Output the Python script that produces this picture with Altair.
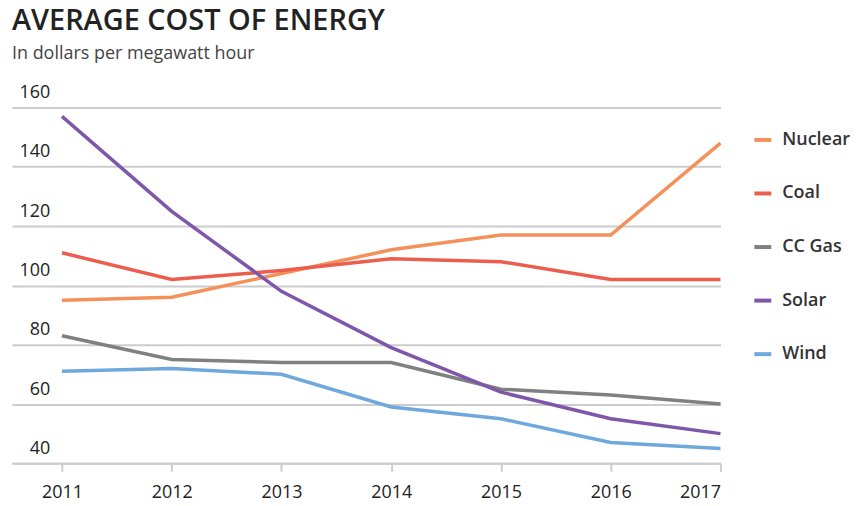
import altair as alt
import pandas as pd

years = [2011, 2012, 2013, 2014, 2015, 2016, 2017]
nuclear = [95, 96, 104, 112, 117, 117, 148]
coal = [111, 102, 105, 109, 108, 102, 102]
cc_gas = [83, 75, 74, 74, 65, 63, 60]
solar = [157, 125, 98, 79, 64, 55, 50]
wind = [71, 72, 70, 59, 55, 47, 45]
series_names = ["Nuclear", "Coal", "CC Gas", "Solar", "Wind"]
series_colors = ["#F4915A", "#EB5E4E", "#808080", "#7E57A8", "#6FA8DC"]
y_ticks = [40, 60, 80, 100, 120, 140, 160]

rows = []
for name, vals in zip(series_names, [nuclear, coal, cc_gas, solar, wind]):
    for yr, v in zip(years, vals):
        rows.append({"year": yr, "cost": v, "source": name})
df = pd.DataFrame(rows)

FONT = "Open Sans"

chart = alt.Chart(df).mark_line(strokeWidth=3.5).encode(
    x=alt.X("year:Q",
            scale=alt.Scale(domain=[2010.545, 2017], nice=False, zero=False),
            axis=alt.Axis(values=years, format="d", title=None, grid=False,
                          domain=True, domainColor="#cccccc", domainWidth=2,
                          ticks=True, tickSize=8, tickColor="#cccccc", tickWidth=2,
                          labelFontSize=18, labelColor="#222222", labelPadding=12,
                          labelFont=FONT)),
    y=alt.Y("cost:Q",
            scale=alt.Scale(domain=[40, 160], nice=False, zero=False),
            axis=alt.Axis(values=y_ticks, title=None, grid=True,
                          gridColor="#cccccc", gridWidth=2, domain=False,
                          ticks=False, tickSize=0, labelAlign="right",
                          labelBaseline="middle", labelPadding=-38,
                          labelOffset=-15, labelFontSize=18,
                          labelColor="#222222", labelFont=FONT)),
    color=alt.Color("source:N",
                    scale=alt.Scale(domain=series_names, range=series_colors),
                    legend=alt.Legend(title=None, orient="none", legendX=743, legendY=22,
                                      symbolType="stroke", symbolStrokeWidth=4,
                                      symbolSize=289, labelFontSize=18, labelFont=FONT,
                                      labelFontWeight=600,
                                      labelColor="#333333", rowPadding=33.75,
                                      labelOffset=9)),
).properties(
    width=711,
    height=357,
    title=alt.Title("AVERAGE COST OF ENERGY",
                    subtitle="In dollars per megawatt hour",
                    anchor="start", font=FONT, fontSize=29, fontWeight=600,
                    color="#222222", subtitleFont=FONT, subtitleFontSize=18,
                    subtitleColor="#444444", subtitlePadding=9, offset=21),
    padding={"left": 4, "top": 99, "right": 130, "bottom": 42},
    autosize=alt.AutoSizeParams(type="none"),
).configure_view(stroke=None)

chart.save("out.html", embed_options={"renderer": "svg", "actions": False})
